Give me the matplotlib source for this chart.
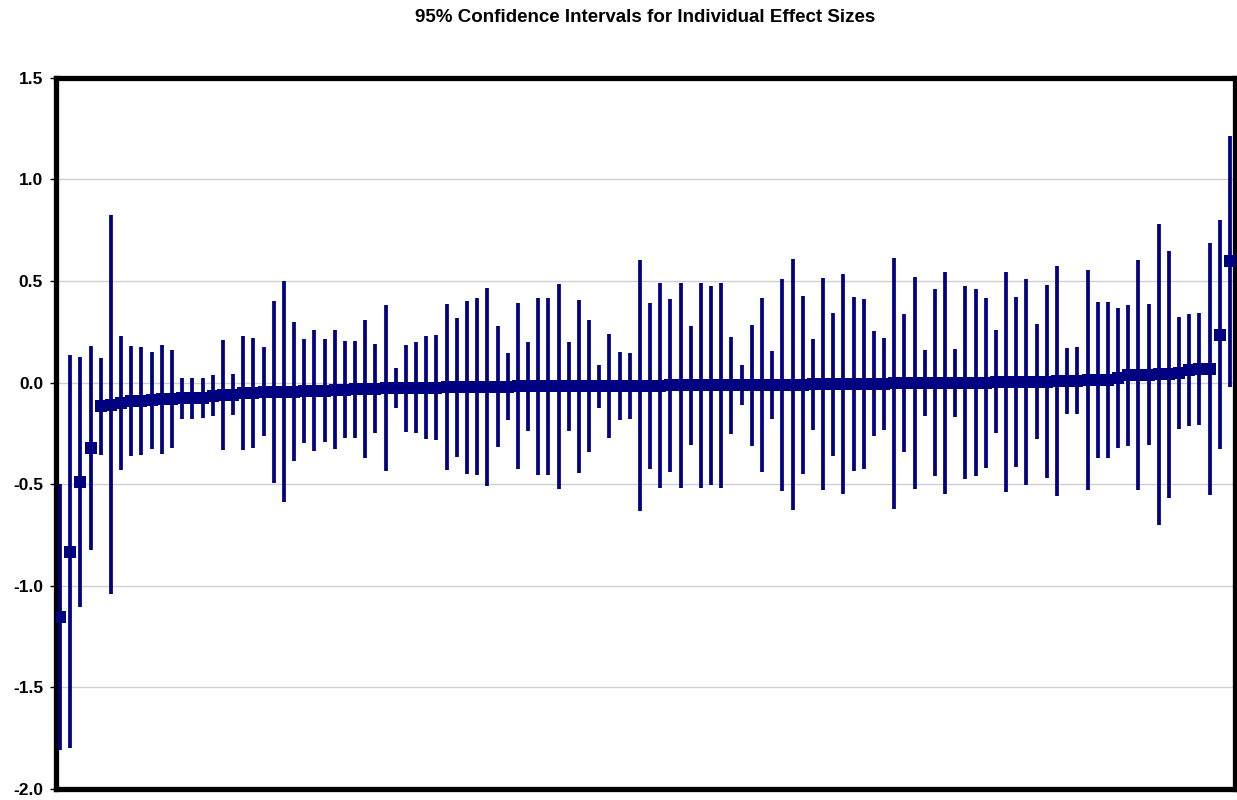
import matplotlib
matplotlib.use("Agg")
import matplotlib.pyplot as plt
import numpy as np

plt.rcParams['font.family'] = ['Liberation Sans', 'DejaVu Sans']

# effect size estimates, sorted ascending
effect = [
    -1.155, -0.833, -0.490, -0.322, -0.117, -0.108, -0.100, -0.092, -0.090, -0.087,
    -0.083, -0.080, -0.078, -0.076, -0.074, -0.064, -0.062, -0.060, -0.051, -0.050,
    -0.047, -0.046, -0.045, -0.044, -0.042, -0.041, -0.039, -0.036, -0.034, -0.033,
    -0.031, -0.030, -0.028, -0.028, -0.027, -0.026, -0.025, -0.025, -0.024, -0.024,
    -0.024, -0.021, -0.021, -0.020, -0.020, -0.018, -0.018, -0.018, -0.018, -0.018,
    -0.018, -0.018, -0.017, -0.017, -0.017, -0.016, -0.016, -0.015, -0.015, -0.015,
    -0.014, -0.014, -0.014, -0.014, -0.014, -0.013, -0.012, -0.012, -0.012, -0.011,
    -0.011, -0.011, -0.010, -0.010, -0.009, -0.008, -0.008, -0.007, -0.006, -0.006,
    -0.005, -0.005, -0.003, -0.003, -0.002, -0.001, -0.001, 0.000, 0.000, 0.000,
    0.000, 0.000, 0.001, 0.002, 0.003, 0.004, 0.005, 0.005, 0.009, 0.009,
    0.010, 0.011, 0.013, 0.014, 0.024, 0.036, 0.038, 0.039, 0.040, 0.041,
    0.049, 0.061, 0.066, 0.069, 0.236, 0.598,
]

# upper and lower 95% limits
upper = [
    -0.500, 0.134, 0.124, 0.179, 0.122, 0.824, 0.231, 0.179, 0.177, 0.152,
    0.187, 0.160, 0.021, 0.025, 0.023, 0.039, 0.210, 0.041, 0.230, 0.218,
    0.174, 0.403, 0.498, 0.297, 0.213, 0.257, 0.216, 0.257, 0.205, 0.207,
    0.310, 0.189, 0.380, 0.070, 0.185, 0.200, 0.228, 0.232, 0.385, 0.316,
    0.403, 0.416, 0.467, 0.277, 0.144, 0.390, 0.200, 0.418, 0.418, 0.487,
    0.200, 0.408, 0.308, 0.089, 0.241, 0.149, 0.145, 0.603, 0.393, 0.490,
    0.413, 0.490, 0.277, 0.490, 0.475, 0.490, 0.225, 0.085, 0.285, 0.415,
    0.156, 0.511, 0.608, 0.428, 0.216, 0.515, 0.344, 0.536, 0.421, 0.413,
    0.252, 0.221, 0.615, 0.338, 0.521, 0.162, 0.459, 0.546, 0.167, 0.474,
    0.461, 0.418, 0.257, 0.544, 0.421, 0.510, 0.290, 0.480, 0.574, 0.172,
    0.175, 0.552, 0.397, 0.397, 0.369, 0.382, 0.605, 0.385, 0.780, 0.646,
    0.325, 0.338, 0.343, 0.689, 0.798, 1.216,
]

lower = [
    -1.810, -1.800, -1.106, -0.824, -0.356, -1.040, -0.430, -0.360, -0.356, -0.328,
    -0.352, -0.320, -0.177, -0.179, -0.173, -0.163, -0.334, -0.161, -0.331, -0.320,
    -0.264, -0.495, -0.587, -0.384, -0.295, -0.338, -0.293, -0.326, -0.272, -0.272,
    -0.372, -0.248, -0.434, -0.125, -0.241, -0.249, -0.279, -0.281, -0.431, -0.364,
    -0.451, -0.457, -0.510, -0.318, -0.185, -0.426, -0.238, -0.457, -0.457, -0.523,
    -0.238, -0.444, -0.343, -0.123, -0.275, -0.182, -0.177, -0.634, -0.425, -0.521,
    -0.441, -0.521, -0.305, -0.521, -0.503, -0.518, -0.251, -0.111, -0.310, -0.438,
    -0.179, -0.533, -0.628, -0.448, -0.234, -0.531, -0.359, -0.549, -0.433, -0.425,
    -0.262, -0.231, -0.621, -0.343, -0.525, -0.164, -0.462, -0.546, -0.167, -0.475,
    -0.462, -0.418, -0.249, -0.540, -0.415, -0.502, -0.280, -0.470, -0.556, -0.156,
    -0.156, -0.531, -0.370, -0.370, -0.321, -0.310, -0.530, -0.307, -0.702, -0.567,
    -0.228, -0.216, -0.211, -0.551, -0.328, -0.021,
]

y_ticks = [-2.0, -1.5, -1.0, -0.5, 0.0, 0.5, 1.0, 1.5]

navy = "#000080"
x = np.arange(1, len(effect) + 1)

fig = plt.figure(figsize=(12.37, 8), dpi=100)
ax = fig.add_axes([0.0449, 0.01375, 0.9535, 0.889])

ax.vlines(x, lower, upper, color=navy, linewidth=2.7, zorder=3)
ax.plot(x, effect, linestyle="none", marker="s", markersize=8.5,
        color=navy, markeredgewidth=0, zorder=4)

ax.set_xlim(0.55, len(effect) + 0.5)
ax.set_ylim(-2.0, 1.5)
ax.set_yticks(y_ticks)
ax.set_yticklabels([f"{t:.1f}" for t in y_ticks], fontsize=12.5, fontweight="bold")
ax.set_xticks([])
ax.tick_params(axis="y", length=4, width=1, pad=5)

ax.grid(axis="y", color="#d0d0d0", linewidth=1, zorder=0)
ax.set_axisbelow(True)

for side in ax.spines.values():
    side.set_linewidth(3.8)
    side.set_color("black")

# title centred over the plot area
fig.text(0.5217, 0.978, "95% Confidence Intervals for Individual Effect Sizes",
         fontsize=13.5, fontweight="bold", ha="center", va="center")

fig.savefig("out.png", dpi=100)
